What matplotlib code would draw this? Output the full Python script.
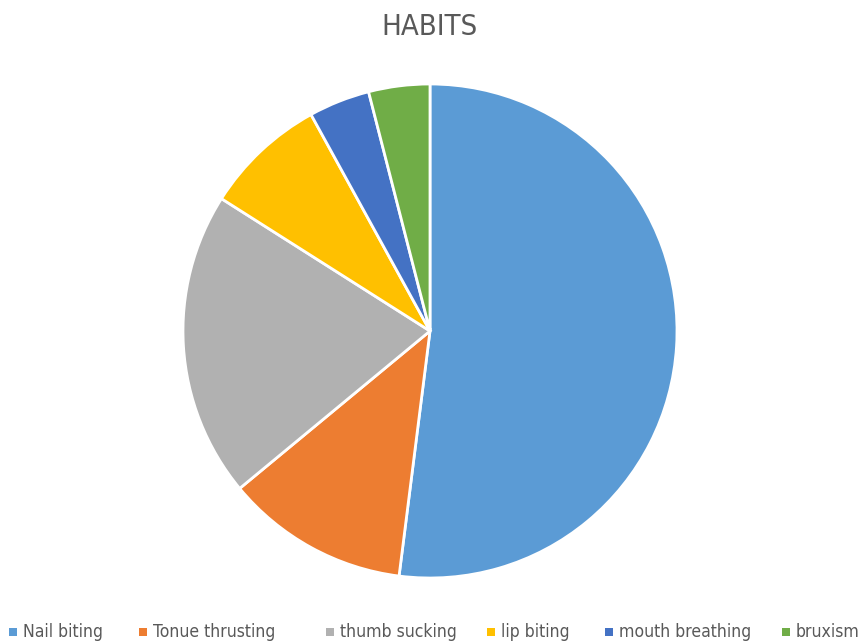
import matplotlib
matplotlib.use("Agg")
import matplotlib.pyplot as plt
from matplotlib.patches import Rectangle

labels = ["Nail biting", "Tonue thrusting", "thumb sucking", "lip biting",
          "mouth breathing", "bruxism"]
values = [26, 6, 10, 4, 2, 2]
colors = ["#5B9BD5", "#ED7D31", "#B1B1B1", "#FFC000", "#4472C4", "#70AD47"]
# legend marker left edges in pixels
legend_x = [9, 139, 326, 487, 605, 782]

plt.rcParams['font.family'] = ['DejaVu Sans']
plt.rcParams['font.stretch'] = 'condensed'

W, H = 862, 643
fig = plt.figure(figsize=(W / 100, H / 100), dpi=100)
# pie centre at (430, 331) px, radius ~247 px
ax = fig.add_axes([(430 - 248) / W, (H - 331 - 248) / H, 496 / W, 496 / H])
ax.pie(values, colors=colors, startangle=90, counterclock=False,
       wedgeprops=dict(edgecolor="white", linewidth=2))
ax.set_xlim(-1.004, 1.004)
ax.set_ylim(-1.004, 1.004)
ax.set_aspect("equal")
ax.axis("off")

fig.text(430 / W, 1 - 27 / H, "HABITS", ha="center", va="center",
         fontsize=21, color="#595959", fontstretch="condensed")

# legend drawn by hand so spacing matches
for x, c, l in zip(legend_x, colors, labels):
    fig.add_artist(Rectangle((x / W, (H - 636) / H), 8 / W, 8 / H,
                             transform=fig.transFigure, facecolor=c, edgecolor="none"))
    fig.text((x + 14) / W, 1 - 632 / H, l, ha="left", va="center",
             fontsize=12.6, color="#595959", fontstretch="condensed")

fig.savefig("out.png", dpi=100)
